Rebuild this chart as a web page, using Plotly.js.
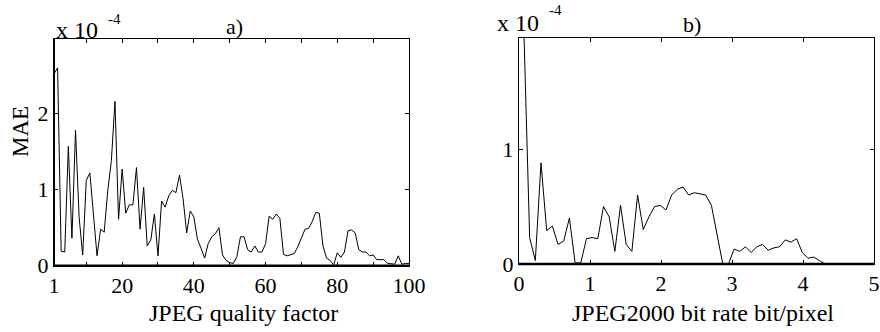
<!DOCTYPE html>
<html>
<head>
<meta charset="utf-8">
<script src="https://cdn.plot.ly/plotly-3.0.1.min.js"></script>
<style>html,body{margin:0;padding:0;background:#fff;}#chart{width:880px;height:332px;}</style>
</head>
<body>
<div id="chart"></div>
<script>
// ---- Data (MAE in units of 1e-4) ----
var jpegQuality = [1,2,3,4,5,6,7,8,9,10,11,12,13,14,15,16,17,18,19,20,21,22,23,24,25,26,27,28,29,30,31,32,33,34,35,36,37,38,39,40,41,42,43,44,45,46,47,48,49,50,51,52,53,54,55,56,57,58,59,60,61,62,63,64,65,66,67,68,69,70,71,72,73,74,75,76,77,78,79,80,81,82,83,84,85,86,87,88,89,90,91,92,93,94,95,96,97,98,99,100];
var jpegMAE = [2.52,2.60,0.19,0.18,1.57,0.36,1.78,0.64,0.14,1.12,
               1.22,0.65,0.13,0.48,0.44,0.99,1.38,2.16,0.61,1.27,
               0.69,0.80,0.80,1.29,0.48,1.03,0.26,0.34,0.68,0.13,
               0.85,0.77,0.92,0.99,0.96,1.19,0.88,0.43,0.72,0.64,
               0.35,0.23,0.10,0.29,0.38,0.42,0.50,0.14,0.07,0.04,
               0.03,0.12,0.38,0.38,0.21,0.18,0.26,0.18,0.18,0.29,
               0.65,0.61,0.68,0.62,0.15,0.13,0.15,0.16,0.25,0.37,
               0.48,0.49,0.58,0.70,0.69,0.26,0.10,0.07,0.01,0.17,
               0.11,0.18,0.46,0.47,0.43,0.21,0.18,0.18,0.13,0.14,
               0.08,0.08,0.08,0.03,0.02,0.02,0.13,0.02,0.03,0.03];

var j2kRate = [0.07,0.15,0.23,0.31,0.39,0.47,0.55,0.63,0.71,0.79,0.87,0.95,1.03,1.11,1.19,1.27,1.35,1.43,1.51,1.59,
               1.67,1.75,1.83,1.91,1.99,2.07,2.15,2.23,2.31,2.39,2.47,2.55,2.63,2.71,2.79,2.87,2.95,3.03,3.11,3.19,
               3.27,3.35,3.43,3.51,3.59,3.67,3.75,3.83,3.91,3.99,4.07,4.15,4.23,4.31];
var j2kMAE = [2.00,0.23,0.03,0.88,0.29,0.33,0.17,0.20,0.40,0.01,0.01,0.22,0.23,0.22,0.50,0.41,0.11,0.51,0.17,0.11,
              0.60,0.30,0.41,0.50,0.51,0.47,0.60,0.65,0.67,0.60,0.62,0.61,0.60,0.51,0.25,0.00,0.00,0.13,0.11,0.15,
              0.10,0.15,0.17,0.12,0.14,0.15,0.21,0.19,0.22,0.10,0.05,0.06,0.03,0.00];

var xTicksA = [1,10,20,30,40,50,60,70,80,90,100];
var xTickTextA = ['1','','20','','40','','60','','80','','100'];
var yTicksA = [0,1,2];
var xTicksB = [0,1,2,3,4,5];
var yTicksB = [0,1];

// ---- Layout helpers ----
var W = 880, H = 332;
function px(x){ return x / W; }
function py(y){ return 1 - y / H; }

var tickFont = {family: 'Liberation Serif, Times New Roman, serif', size: 22, color: '#000'};
var serif = 'Liberation Serif, Times New Roman, serif';

function axisBase(extra){
  var a = {
    showline: true, linecolor: '#000', linewidth: 1, mirror: 'ticks',
    ticks: 'inside', ticklen: 4, tickwidth: 1, tickcolor: '#000',
    showgrid: false, zeroline: false, tickfont: tickFont, fixedrange: true
  };
  for (var k in extra) a[k] = extra[k];
  return a;
}

var traces = [
  {x: jpegQuality, y: jpegMAE, type: 'scatter', mode: 'lines', line: {color: '#000', width: 1}, xaxis: 'x', yaxis: 'y', hoverinfo: 'skip', cliponaxis: true},
  {x: j2kRate, y: j2kMAE, type: 'scatter', mode: 'lines', line: {color: '#000', width: 1}, xaxis: 'x2', yaxis: 'y2', hoverinfo: 'skip', cliponaxis: true}
];

var layout = {
  width: W, height: H,
  margin: {l: 0, r: 0, t: 0, b: 0, autoexpand: false},
  paper_bgcolor: '#fff', plot_bgcolor: '#fff',
  showlegend: false,
  xaxis: axisBase({domain: [px(54), px(409)], range: [1, 100], tickvals: xTicksA, ticktext: xTickTextA, anchor: 'y', tickmode: 'array'}),
  yaxis: axisBase({domain: [py(265.7), py(39)], range: [0, 2.98], tickvals: yTicksA, anchor: 'x', tickmode: 'array'}),
  xaxis2: axisBase({domain: [px(519), px(874)], range: [0, 5], tickvals: xTicksB, anchor: 'y2', tickmode: 'array'}),
  yaxis2: axisBase({domain: [py(264), py(37.5)], range: [0, 1.97], tickvals: yTicksB, anchor: 'x2', tickmode: 'array'}),
  shapes: [
    {type: 'line', xref: 'x domain', yref: 'y domain', x0: 0, x1: 1, y0: 0, y1: 0, line: {color: '#000', width: 2.5}, layer: 'above'},
    {type: 'line', xref: 'x domain', yref: 'y domain', x0: 0, x1: 0, y0: 0, y1: 1, line: {color: '#000', width: 2}, layer: 'above'},
    {type: 'line', xref: 'x2 domain', yref: 'y2 domain', x0: 0, x1: 1, y0: 0, y1: 0, line: {color: '#000', width: 2.5}, layer: 'above'}
  ],
  annotations: [
    {text: 'x 10', xref: 'paper', yref: 'paper', x: px(54), y: py(30), xanchor: 'left', yanchor: 'middle', showarrow: false, font: {family: serif, size: 24, color: '#000'}},
    {text: '-4', xref: 'paper', yref: 'paper', x: px(114.5), y: py(19), xanchor: 'center', yanchor: 'middle', showarrow: false, font: {family: serif, size: 15, color: '#000'}},
    {text: 'a)', xref: 'paper', yref: 'paper', x: px(234.5), y: py(26.5), xanchor: 'center', yanchor: 'middle', showarrow: false, font: {family: serif, size: 22, color: '#000'}},
    {text: 'x 10', xref: 'paper', yref: 'paper', x: px(495), y: py(23.5), xanchor: 'left', yanchor: 'middle', showarrow: false, font: {family: serif, size: 24, color: '#000'}},
    {text: '-4', xref: 'paper', yref: 'paper', x: px(555), y: py(9.5), xanchor: 'center', yanchor: 'middle', showarrow: false, font: {family: serif, size: 15, color: '#000'}},
    {text: 'b)', xref: 'paper', yref: 'paper', x: px(691.7), y: py(24.5), xanchor: 'center', yanchor: 'middle', showarrow: false, font: {family: serif, size: 22, color: '#000'}},
    {text: 'JPEG quality factor', xref: 'paper', yref: 'paper', x: px(243), y: py(313), xanchor: 'center', yanchor: 'middle', showarrow: false, font: {family: serif, size: 24, color: '#000'}},
    {text: 'JPEG2000 bit rate bit/pixel', xref: 'paper', yref: 'paper', x: px(703), y: py(313), xanchor: 'center', yanchor: 'middle', showarrow: false, font: {family: serif, size: 24, color: '#000'}},
    {text: 'MAE', xref: 'paper', yref: 'paper', x: px(20), y: py(132), xanchor: 'center', yanchor: 'middle', textangle: -90, showarrow: false, font: {family: serif, size: 23, color: '#000'}}
  ]
};

Plotly.newPlot('chart', traces, layout, {staticPlot: true, displayModeBar: false});
</script>
</body>
</html>
